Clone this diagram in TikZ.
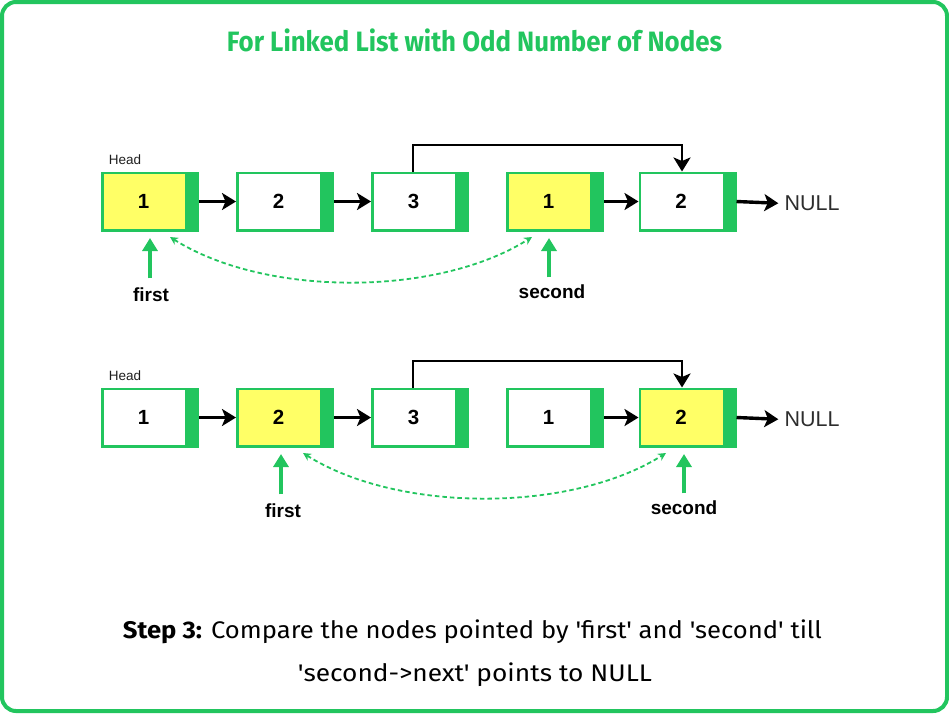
\documentclass[tikz,border=0pt]{standalone}
\usepackage{graphicx}
\usepackage{fontspec}
\setmainfont{Liberation Sans}
\newfontfamily\firafont{Fira Sans}[Ligatures=TeXOff]
\usetikzlibrary{arrows.meta}
\definecolor{gr}{RGB}{34,197,94}
\definecolor{yl}{RGB}{255,255,102}
\definecolor{dk}{RGB}{30,30,30}
\definecolor{nulc}{RGB}{45,45,45}
\begin{document}
\begin{tikzpicture}[x=1pt,y=-1pt,
  llbox/.style={draw=gr, line width=2.7pt, fill=white, minimum width=95.3pt, minimum height=57.3pt, inner sep=0pt,
    path picture={\fill[gr] ([xshift=-12.6pt]path picture bounding box.north east) rectangle (path picture bounding box.south east);}},
  hl/.style={fill=yl},
  num/.style={font=\fontsize{20.5}{24}\selectfont\bfseries, text=black, inner sep=0pt},
  headtxt/.style={font=\fontsize{13.5}{16}\selectfont, text=dk, inner sep=0pt},
  ptrtxt/.style={font=\fontsize{19}{22}\selectfont\bfseries, text=black, inner sep=0pt},
  nulltxt/.style={font=\fontsize{21.5}{24}\selectfont, text=nulc, inner sep=0pt},
  link/.style={draw=black, line width=3.4pt, -{Stealth[length=14pt,width=17pt,inset=3.5pt]}},
  loop/.style={draw=black, line width=2.9pt, -{Stealth[length=14pt,width=17pt,inset=3.5pt]}},
  ptr/.style={draw=gr, line width=3.8pt, -{Triangle[length=13pt,width=15pt]}},
  cmp/.style={draw=gr, line width=1.8pt, dash pattern=on 4.5pt off 3pt, {Stealth[length=8pt,width=8pt]}-{Stealth[length=8pt,width=8pt]}},
  ttl/.style={font=\firafont\bfseries\fontsize{28}{32}\selectfont, text=gr, inner sep=0pt, anchor=base},
  captxt/.style={font=\firafont\fontsize{24}{28}\selectfont, text=black, inner sep=0pt, anchor=base}
]
\useasboundingbox (0,0) rectangle (949,713);
\draw[gr, line width=4pt, rounded corners=14pt] (2,2) rectangle (947,711);

% title
\node[ttl] (title) at (474.5,51.3) {\resizebox{495pt}{\height}{For Linked List with Odd Number of Nodes}};

% ---------- row 1 ----------
\node[llbox, hl] (a1) at (150,201.5) {};
\node[llbox] (a2) at (285,201.5) {};
\node[llbox] (a3) at (420,201.5) {};
\node[llbox, hl] (a4) at (555,201.5) {};
\node[llbox] (a5) at (687.5,201.5) {};
\node[num] (ta1) at ([xshift=-6.5pt]a1.center) {1};
\node[num] (ta2) at ([xshift=-6.5pt]a2.center) {2};
\node[num] (ta3) at ([xshift=-6.5pt]a3.center) {3};
\node[num] (ta4) at ([xshift=-6.5pt]a4.center) {1};
\node[num] (ta5) at ([xshift=-6.5pt]a5.center) {2};
\node[headtxt] (h1) at (125,160) {Head};
\node[nulltxt] (null1) at (812,203.5) {NULL};

\draw[link] (a1) -- (a2);
\draw[link] (a2) -- (a3);
\draw[link] (a4) -- (a5);
\draw[link, shorten >=6pt] (a5.east) -- (null1.west);
\draw[loop] ([xshift=-7pt]a3.north) -- ++(0,-26.5) -| ([xshift=-5.5pt]a5.north);

\node[ptrtxt] (f1) at (151,294.5) {first};
\node[ptrtxt] (s1) at (552,291.5) {second};
\coordinate (f1tip) at (150,238);
\coordinate (s1tip) at (549,238);
\draw[ptr, shorten <=9pt] (f1tip |- f1.north) -- (f1tip);
\draw[ptr, shorten <=7pt] (s1tip |- s1.north) -- (s1tip);
\coordinate (c1l) at (170,237);
\coordinate (c1r) at (532,237);
\draw[cmp] (c1l) .. controls (265,297) and (437,297) .. (c1r);

% ---------- row 2 ----------
\node[llbox] (b1) at (150,417.5) {};
\node[llbox, hl] (b2) at (285,417.5) {};
\node[llbox] (b3) at (420,417.5) {};
\node[llbox] (b4) at (555,417.5) {};
\node[llbox, hl] (b5) at (687.5,417.5) {};
\node[num] (tb1) at ([xshift=-6.5pt]b1.center) {1};
\node[num] (tb2) at ([xshift=-6.5pt]b2.center) {2};
\node[num] (tb3) at ([xshift=-6.5pt]b3.center) {3};
\node[num] (tb4) at ([xshift=-6.5pt]b4.center) {1};
\node[num] (tb5) at ([xshift=-6.5pt]b5.center) {2};
\node[headtxt] (h2) at (125,376) {Head};
\node[nulltxt] (null2) at (812,419.5) {NULL};

\draw[link] (b1) -- (b2);
\draw[link] (b2) -- (b3);
\draw[link] (b4) -- (b5);
\draw[link, shorten >=6pt] (b5.east) -- (null2.west);
\draw[loop] ([xshift=-7pt]b3.north) -- ++(0,-26.5) -| ([xshift=-5.5pt]b5.north);

\node[ptrtxt] (f2) at (283,510.5) {first};
\node[ptrtxt] (s2) at (684,507.5) {second};
\coordinate (f2tip) at (281,454);
\coordinate (s2tip) at (684,454);
\draw[ptr, shorten <=9pt] (f2tip |- f2.north) -- (f2tip);
\draw[ptr, shorten <=7pt] (s2tip |- s2.north) -- (s2tip);
\coordinate (c2l) at (303,453);
\coordinate (c2r) at (666,453);
\draw[cmp] (c2l) .. controls (398,513) and (571,513) .. (c2r);

% caption
\node[captxt] (cap1) at (472.5,638.3) {\resizebox{699pt}{\height}{{\bfseries Step 3:} Compare the nodes pointed by 'first' and 'second' till}};
\node[captxt] (cap2) at (475,681) {\resizebox{354pt}{\height}{'second->next' points to NULL}};
\end{tikzpicture}
\end{document}
